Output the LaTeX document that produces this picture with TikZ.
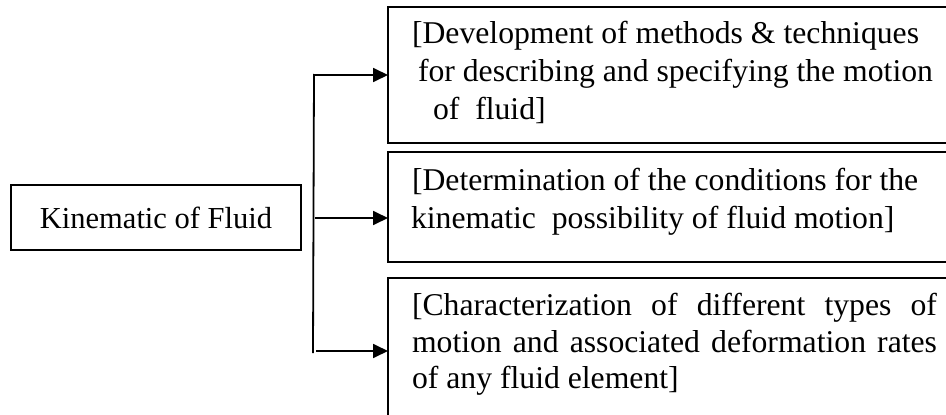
\documentclass[tikz,border=0pt]{standalone}
\usepackage{fontspec}
\setmainfont{Liberation Serif}
\usetikzlibrary{arrows.meta,calc}
\tikzset{
  boxst/.style={draw=black,line width=1.8pt,inner sep=0pt,outer sep=0pt},
  txt/.style={inner sep=0pt,outer sep=0pt,anchor=base west,font=\fontsize{31.7}{38}\selectfont},
  arr/.style={line width=1.8pt,-{Triangle[length=15pt,width=14pt]}},
  spine/.style={line width=1.8pt}
}
\begin{document}
\begin{tikzpicture}[x=1pt,y=-1pt]
\useasboundingbox (0,0) rectangle (946,415);
\clip (0,0) rectangle (946,415);
% left box
\node[boxst,anchor=north west,minimum width=290pt,minimum height=65pt,
  font=\fontsize{30.5}{38}\selectfont] (src) at (11,185) {Kinematic of Fluid};
% right boxes
\node[boxst,anchor=north west,minimum width=580pt,minimum height=136pt] (b1) at (388,7) {};
\node[boxst,anchor=north west,minimum width=580pt,minimum height=110pt] (b2) at (388,152) {};
\node[boxst,anchor=north west,minimum width=580pt,minimum height=160pt] (b3) at (388,278) {};
% texts box 1
\node[txt] (t11) at (412,43) {[Development of methods \& techniques};
\node[txt] (t12) at (418,81) {for describing and specifying the motion};
\node[txt] (t13) at (433,119) {of\ \ fluid]};
% texts box 2
\node[txt] (t21) at (412,190) {[Determination of the conditions for the};
\node[txt] (t22) at (411,228) {kinematic\ \ possibility of fluid motion]};
% texts box 3
\node[txt] (t31) at (412,315) {\makebox[525pt][s]{[Characterization of different types of}};
\node[txt] (t32) at (412,352) {\makebox[525pt][s]{motion and associated deformation rates}};
\node[txt] (t33) at (412,388) {of any fluid element]};
% connectors
\coordinate (s1) at (314,75);
\coordinate (s2) at (315,218);
\coordinate (s3) at (316,351);
\coordinate (stop) at (314,74);
\coordinate (sbot) at (313,353);
\draw[spine] (stop) -- (sbot);
\draw[arr] (s1) -- (s1 -| b1.west);
\draw[arr] (s2) -- (s2 -| b2.west);
\draw[arr] (s3) -- (s3 -| b3.west);
\end{tikzpicture}
\end{document}
